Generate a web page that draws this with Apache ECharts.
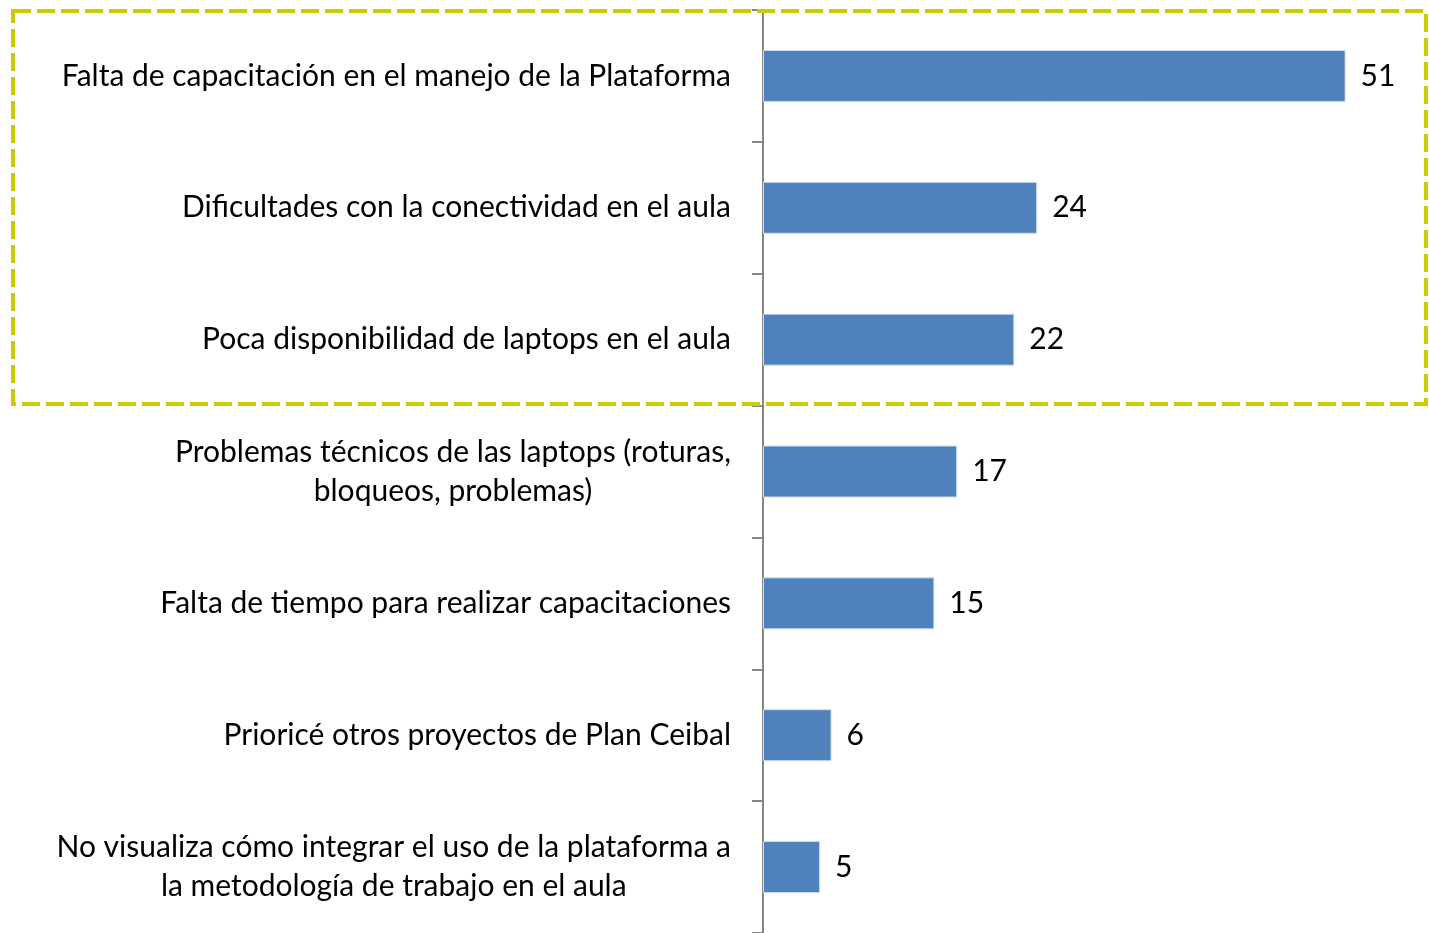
<!DOCTYPE html>
<html>
<head>
<meta charset="utf-8">
<script src="https://cdn.jsdelivr.net/npm/echarts@6/dist/echarts.min.js"></script>
<style>
  html, body { margin: 0; padding: 0; background: #fff; }
  #main { width: 1429px; height: 933px; }
</style>
</head>
<body>
<div id="main"></div>
<script>
  // categories top to bottom
  var categories = [
    "Falta de capacitación en el manejo de la Plataforma",
    "Dificultades con la conectividad en el aula",
    "Poca disponibilidad de laptops en el aula",
    "Problemas técnicos de las laptops (roturas,\nbloqueos, problemas)",
    "Falta de tiempo para realizar capacitaciones",
    "Prioricé otros proyectos de Plan Ceibal",
    "No visualiza cómo integrar el uso de la plataforma a\nla metodología de trabajo en el aula"
  ];
  var values = [51, 24, 22, 17, 15, 6, 5];

  var fontFamily = "Lato, 'Open Sans', sans-serif";
  var myChart = echarts.init(document.getElementById("main"));
  myChart.setOption({
    animation: false,
    grid: { left: 763, top: 10, right: 0, height: 924, containLabel: false },
    xAxis: {
      type: "value",
      min: 0,
      max: 58.3,
      show: false
    },
    yAxis: {
      type: "category",
      inverse: true,
      data: categories,
      axisLine: { show: true, lineStyle: { color: "#868686", width: 2 } },
      axisTick: { show: true, length: 11, inside: false, lineStyle: { color: "#868686", width: 2 } },
      axisLabel: {
        margin: 32,
        fontFamily: fontFamily,
        fontSize: 30,
        color: "#000",
        lineHeight: 39,
        formatter: function (v) { return "{c|" + v.split("\n").join("}\n{c|") + "}"; },
        rich: { c: { align: "center", fontFamily: fontFamily, fontSize: 30, lineHeight: 39, color: "#000" } }
      },
      splitLine: { show: false }
    },
    series: [
      {
        type: "bar",
        data: values,
        barWidth: 52,
        itemStyle: { color: "#4f81bd", borderColor: "#cfdcee", borderWidth: 1 },
        label: {
          show: true,
          position: "right",
          distance: 15,
          fontFamily: fontFamily,
          fontSize: 30,
          color: "#000"
        }
      }
    ],
    graphic: [
      {
        type: "rect",
        shape: { x: 13, y: 11, width: 1413, height: 393 },
        style: { fill: null, stroke: "#cccc00", lineWidth: 4, lineDash: [18, 6] },
        silent: true,
        z: 100
      }
    ]
  });
</script>
</body>
</html>
